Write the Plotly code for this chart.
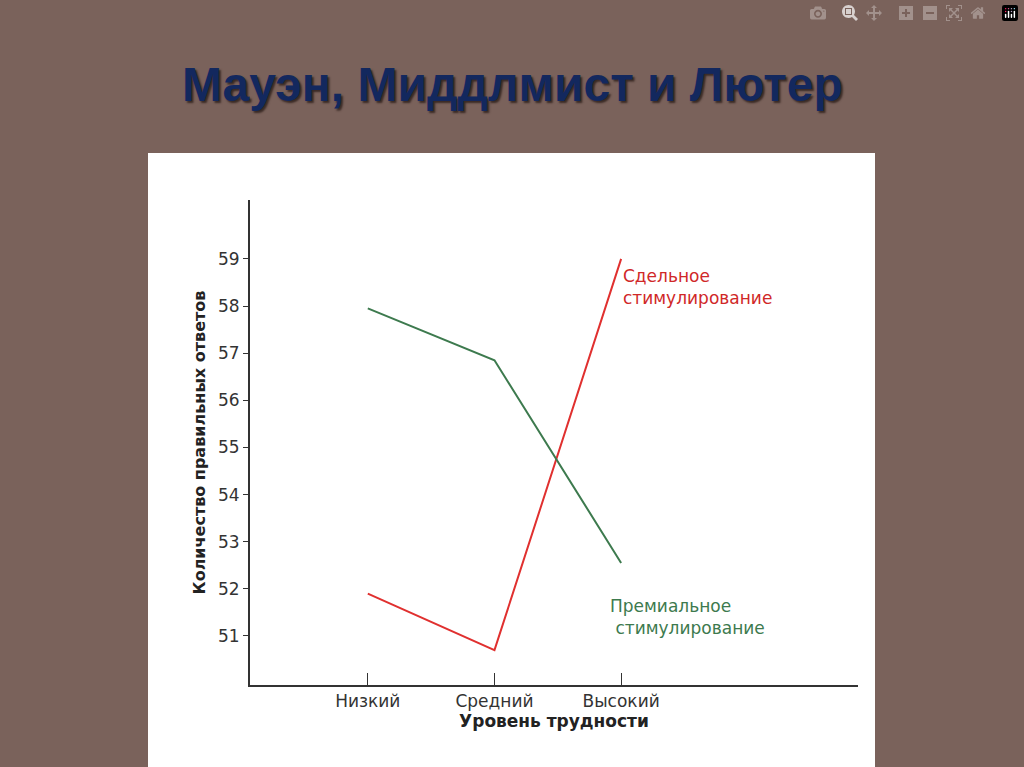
import plotly.graph_objects as go

categories = ["Низкий", "Средний", "Высокий"]
piece_rate = [51.9, 50.7, 59.0]
bonus = [57.95, 56.85, 52.55]
y_ticks = [51, 52, 53, 54, 55, 56, 57, 58, 59]

W, H = 1024, 767
fig = go.Figure()
fig.add_trace(go.Scatter(x=[0, 1, 2], y=piece_rate, mode="lines",
                         line=dict(color="#e0302f", width=2), showlegend=False))
fig.add_trace(go.Scatter(x=[0, 1, 2], y=bonus, mode="lines",
                         line=dict(color="#3d7a4e", width=2), showlegend=False))

fig.add_shape(type="rect", xref="paper", yref="paper",
              x0=148/W, x1=875/W, y0=0, y1=1-153/H,
              fillcolor="white", line=dict(width=0), layer="below")

fig.add_annotation(x=512/W, y=1-85/H, xref="paper", yref="paper",
                   xanchor="center", yanchor="middle",
                   text="<b>Мауэн, Миддлмист и Лютер</b>", showarrow=False,
                   font=dict(family="Liberation Sans", size=48, color="#13285e",
                             shadow="2px 2px 2px #3a2a25"))
fig.add_annotation(x=2.0, y=58.4, xref="x", yref="y", xanchor="left", yanchor="middle",
                   text="Сдельное<br>стимулирование", showarrow=False, align="left",
                   font=dict(family="DejaVu Sans", size=17, color="#d02828"))
fig.add_annotation(x=1.9, y=51.4, xref="x", yref="y", xanchor="left", yanchor="middle",
                   text="Премиальное<br>&nbsp;стимулирование", showarrow=False, align="left",
                   font=dict(family="DejaVu Sans", size=17, color="#3d7a4e"))

fig.update_layout(
    width=W, height=H, margin=dict(l=0, r=0, t=0, b=0),
    paper_bgcolor="#7a625b", plot_bgcolor="white",
    xaxis=dict(domain=[250/W, 858/W], range=[-0.93, 3.87],
               tickvals=[0, 1, 2], ticktext=categories, showgrid=False, zeroline=False,
               showline=True, linecolor="#333", linewidth=2,
               ticks="inside", ticklen=12, tickcolor="#333",
               tickfont=dict(family="DejaVu Sans", size=17, color="#333"),
               title=dict(text="<b>Уровень трудности</b>", standoff=4,
                          font=dict(family="DejaVu Sans", size=17, color="#222"))),
    yaxis=dict(domain=[1-685/H, 1-200/H], range=[49.96, 60.25],
               tickvals=y_ticks, showgrid=False, zeroline=False,
               showline=True, linecolor="#333", linewidth=2,
               ticks="outside", ticklen=5, tickcolor="#333",
               tickfont=dict(family="DejaVu Sans", size=17, color="#333"),
               title=dict(text="<b>Количество правильных ответов</b>", standoff=8,
                          font=dict(family="DejaVu Sans", size=16, color="#222"))),
)
fig.write_html("out.html", post_script="document.body.style.margin='0';document.body.style.overflow='hidden';")
